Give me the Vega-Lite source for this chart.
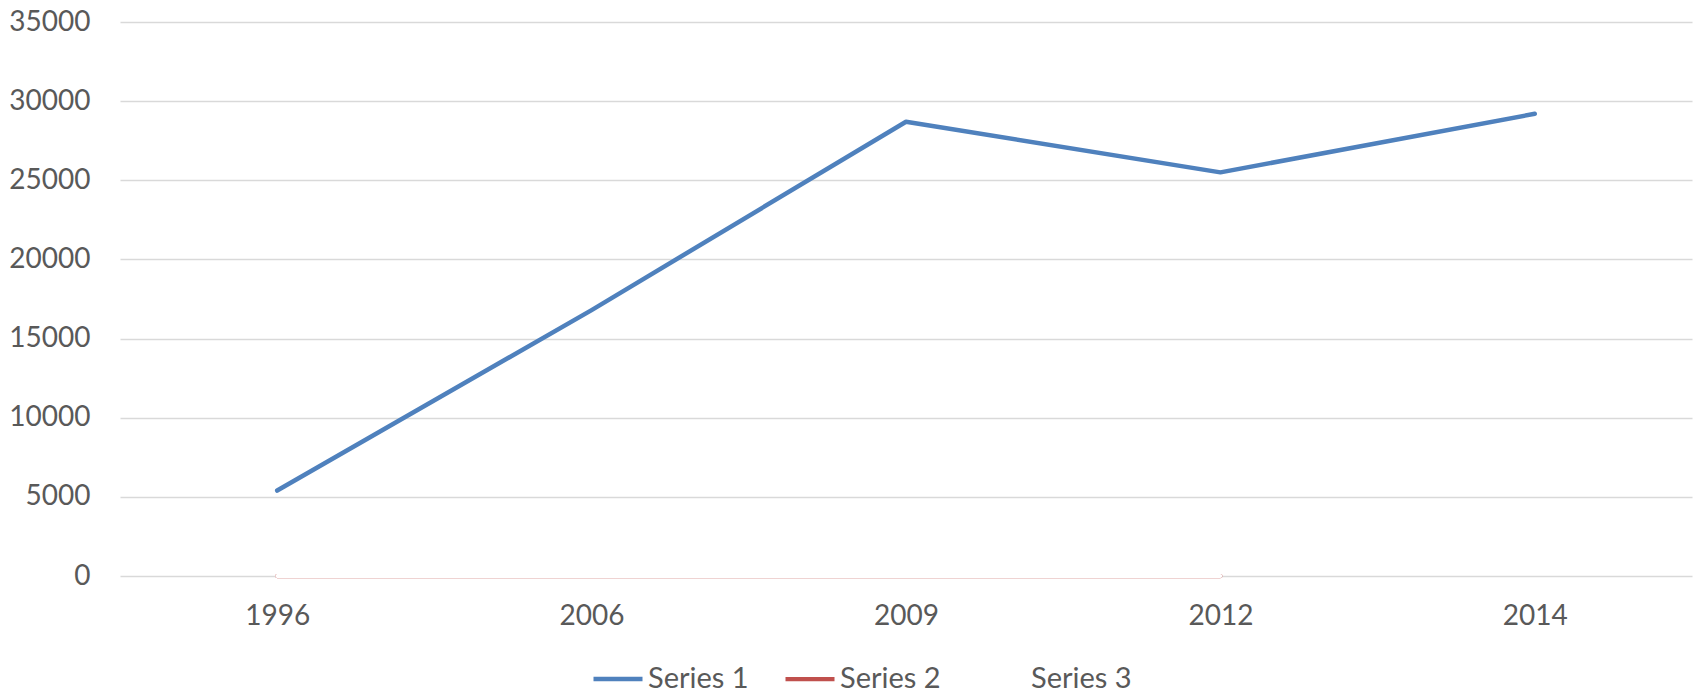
{
  "$schema": "https://vega.github.io/schema/vega-lite/v6.json",
  "width": 1572,
  "height": 554,
  "autosize": {"type": "none"},
  "padding": {"left": 120, "top": 22, "right": 6, "bottom": 121},
  "background": "#ffffff",
  "config": {
    "view": {"stroke": null},
    "font": "Lato",
    "axis": {"labelFont": "Lato", "labelFontSize": 28, "labelColor": "#595959"},
    "legend": {"labelFont": "Lato", "labelFontSize": 29, "labelColor": "#595959"}
  },
  "data": {
    "values": [
      {"year": "1996", "series": "Series 1", "value": 5400},
      {"year": "2006", "series": "Series 1", "value": 16800},
      {"year": "2009", "series": "Series 1", "value": 28700},
      {"year": "2012", "series": "Series 1", "value": 25500},
      {"year": "2014", "series": "Series 1", "value": 29200},
      {"year": "1996", "series": "Series 2", "value": 0},
      {"year": "2006", "series": "Series 2", "value": 0},
      {"year": "2009", "series": "Series 2", "value": 0},
      {"year": "2012", "series": "Series 2", "value": 0},
      {"year": "1996", "series": "Series 3", "value": 0},
      {"year": "2006", "series": "Series 3", "value": 0},
      {"year": "2009", "series": "Series 3", "value": 0},
      {"year": "2012", "series": "Series 3", "value": 0}
    ]
  },
  "mark": {"type": "line", "strokeCap": "round", "strokeJoin": "round"},
  "encoding": {
    "x": {
      "field": "year",
      "type": "ordinal",
      "scale": {"type": "point", "padding": 0.5},
      "axis": {"title": null, "labelAngle": 0, "domain": false, "ticks": false, "grid": false, "labelPadding": 26}
    },
    "y": {
      "field": "value",
      "type": "quantitative",
      "scale": {"domain": [0, 35000], "nice": false, "zero": true},
      "axis": {"title": null, "values": [0, 5000, 10000, 15000, 20000, 25000, 30000, 35000], "format": "d", "domain": false, "ticks": false, "grid": true, "gridColor": "#d9d9d9", "gridWidth": 1.5, "labelPadding": 30}
    },
    "color": {
      "field": "series",
      "type": "nominal",
      "scale": {"domain": ["Series 1", "Series 2", "Series 3"], "range": ["#4f81bd", "#c0504d", "#ffffff"]},
      "legend": {
        "title": null,
        "orient": "none",
        "legendX": 471,
        "legendY": 630,
        "direction": "horizontal",
        "symbolType": "stroke",
        "symbolSize": 2401,
        "symbolStrokeWidth": 4.5,
        "labelOffset": 3,
        "columnPadding": 28
      }
    },
    "strokeWidth": {
      "field": "series",
      "type": "nominal",
      "scale": {"domain": ["Series 1", "Series 2", "Series 3"], "range": [4.5, 4, 6]},
      "legend": null
    },
    "order": {"field": "series"}
  }
}
